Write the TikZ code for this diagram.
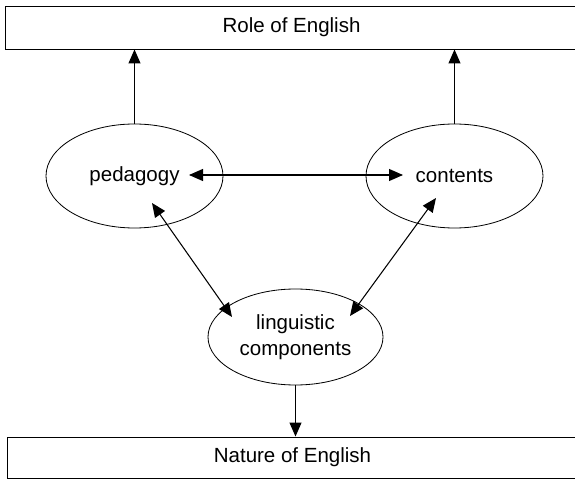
\documentclass[tikz,border=0pt]{standalone}
\usepackage{fontspec}
\setmainfont{Liberation Sans}
\usetikzlibrary{shapes,arrows.meta}

\begin{document}
\begin{tikzpicture}[x=0.03cm,y=-0.03cm]
\useasboundingbox (0,0) rectangle (575,480);

\tikzstyle{banner}=[draw,rectangle,line width=0.8pt,minimum width=17.19cm,minimum height=1.29cm,inner sep=0pt,font=\fontsize{17.5}{21}\selectfont]
\tikzstyle{bubble}=[draw,ellipse,line width=0.7pt,minimum width=5.31cm,minimum height=3.12cm,inner sep=0pt,align=center,font=\fontsize{17.5}{22}\selectfont]
\tikzstyle{link}=[line width=0.9pt,>={Triangle[length=4.2mm,width=3.6mm]}]

\node[banner] (role) at (291.5,27.5) {Role of English};
\node[banner,minimum width=17.13cm,minimum height=1.23cm] (nature) at (292.5,457.5) {Nature of English};

\node[bubble] (peda) at (134.5,176) {pedagogy};
\node[bubble] (cont) at (454.5,176) {contents};
\node[bubble,minimum width=5.25cm,minimum height=2.88cm] (ling) at (295.5,337) {linguistic\\components};

\draw[link,->] (peda.north) -- (peda.north |- role.south);
\draw[link,->] (cont.north) -- (cont.north |- role.south);
\draw[link,->] (ling.south) -- (ling.south |- nature.north);

\draw[link,<->] ([shift={(54.5,-1)}]peda.center) -- ([shift={(-51.5,-1)}]cont.center);
\draw[link,<->] ([shift={(17.5,27)}]peda.center) -- ([shift={(-63.5,-20)}]ling.center);
\draw[link,<->] ([shift={(-18.5,22)}]cont.center) -- ([shift={(54.5,-21)}]ling.center);
\end{tikzpicture}
\end{document}
